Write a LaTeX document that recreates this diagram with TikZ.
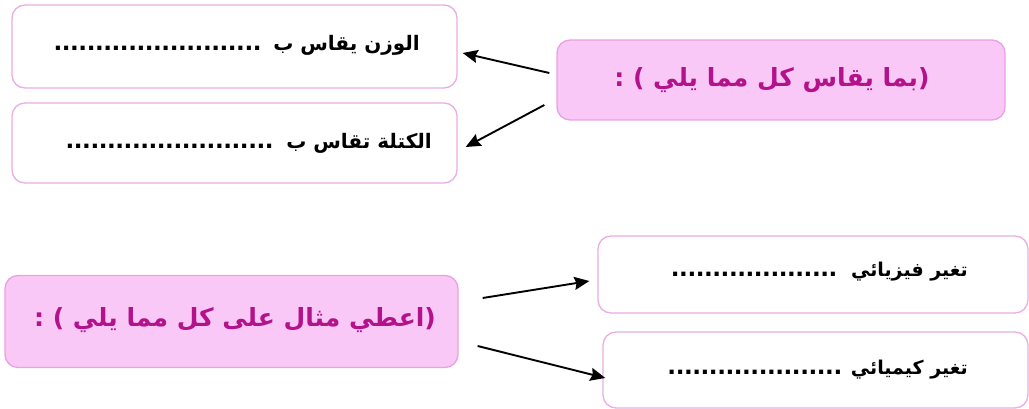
\documentclass[tikz,border=0pt]{standalone}
\usepackage{fontspec}
\TeXXeTstate=1
\newfontfamily\arabicfont[Script=Arabic]{DejaVu Sans}
\usetikzlibrary{arrows.meta}
\definecolor{boxline}{HTML}{E9AEE3}
\definecolor{pinkfill}{HTML}{F9C8F6}
\definecolor{pinkline}{HTML}{E8A2E2}
\definecolor{magtext}{HTML}{B3128A}
\newcommand\dotrow[1]{\hbox to #1pt{\fontsize{23}{23}\selectfont\leaders\hbox to 8.3pt{\hss.\hss}\hfill}}
\begin{document}
\begin{tikzpicture}[x=1pt,y=-1pt,
  whitebox/.style={draw=boxline,line width=1.3pt,fill=white,rounded corners=13pt,inner sep=0pt},
  pinkbox/.style={draw=pinkline,line width=1.3pt,fill=pinkfill,rounded corners=13pt,inner sep=0pt},
  blacktxt/.style={font=\arabicfont\bfseries\fontsize{20}{23}\selectfont,text=black,inner sep=0pt},
  blacktxtb/.style={font=\arabicfont\bfseries\fontsize{19}{22}\selectfont,text=black,inner sep=0pt},
  magtxt/.style={font=\arabicfont\bfseries\fontsize{25}{28}\selectfont,text=magtext,inner sep=0pt},
  arr/.style={line width=1.9pt,-{Stealth[length=15pt,width=13pt,inset=2pt]}}]
\useasboundingbox (0,0) rectangle (1029,409);
\fill[white] (0,0) rectangle (1029,409);
% boxes
\node[whitebox,minimum width=445pt,minimum height=83pt] (A) at (234.5,46.5) {};
\node[whitebox,minimum width=445pt,minimum height=80pt] (B) at (234.5,143) {};
\node[pinkbox,minimum width=448pt,minimum height=80pt] (C) at (781,80) {};
\node[pinkbox,minimum width=453pt,minimum height=92pt] (D) at (231.5,321.5) {};
\node[whitebox,minimum width=430pt,minimum height=77pt] (E) at (813,274.5) {};
\node[whitebox,minimum width=425pt,minimum height=76pt] (F) at (815.5,370) {};
% texts
\node[blacktxt,anchor=east] (tA) at (420,45) {\beginR الوزن يقاس ب\kern12pt\dotrow{211}\endR};
\node[blacktxt,anchor=east] (tB) at (432,143) {\beginR الكتلة تقاس ب\kern13pt\dotrow{211}\endR};
\node[magtxt] (tC) at (772,80) {\beginR(بما يقاس كل مما يلي ) :\endR};
\node[magtxt] (tD) at (235,320) {\beginR(اعطي مثال على كل مما يلي ) :\endR};
\node[blacktxtb,anchor=east] (tE) at (968,272) {\beginR تغير فيزيائي\kern14pt\dotrow{173}\endR};
\node[blacktxtb,anchor=east] (tF) at (968,370) {\beginR تغير كيميائي\kern9pt\dotrow{182}\endR};
% arrows
\draw[arr] ([shift={(-7,-7)}]C.west) -- ([shift={(5,6.5)}]A.east);
\draw[arr] ([shift={(-12,25)}]C.west) -- ([shift={(8,4)}]B.east);
\draw[arr] ([shift={(24,-23.5)}]D.east) -- ([shift={(-8,6.5)}]E.west);
\draw[arr] ([shift={(19,24.5)}]D.east) -- ([shift={(3,8)}]F.west);
\end{tikzpicture}
\end{document}
